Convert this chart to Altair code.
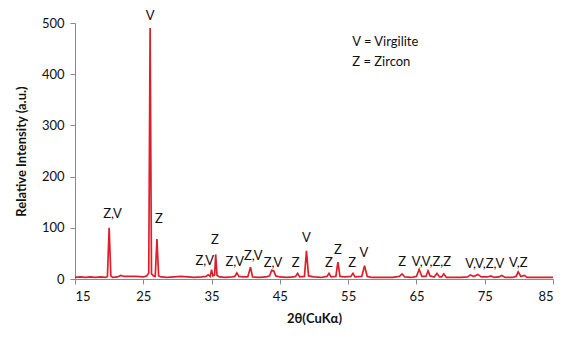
import altair as alt
import pandas as pd

# XRD trace: 2theta (deg) and relative intensity
two_theta = [15.0, 15.8, 16.5, 17.3, 18.0, 18.8, 19.5, 19.75, 20.0, 20.25, 20.5, 21.2, 21.7, 22.2,
             23.0, 24.0, 25.0, 25.5, 25.8, 26.0, 26.2, 26.5, 26.75, 27.0, 27.25, 27.6, 28.5, 29.5,
             30.5, 31.5, 32.5, 33.5, 34.2, 34.5, 34.8, 35.0, 35.2, 35.45, 35.6, 35.8, 36.2, 37.0,
             38.0, 38.4, 38.7, 39.0, 39.6, 40.3, 40.7, 41.0, 42.0, 43.0, 43.5, 43.8, 44.1, 44.4,
             45.0, 46.0, 47.0, 47.3, 47.6, 47.9, 48.6, 48.9, 49.2, 50.0, 51.0, 51.9, 52.2, 52.5,
             53.2, 53.5, 53.8, 54.5, 55.4, 55.7, 56.0, 57.0, 57.4, 57.8, 58.5, 59.5, 60.5, 61.5,
             62.5, 62.9, 63.3, 64.2, 65.0, 65.4, 65.8, 66.4, 66.7, 67.0, 67.6, 68.0, 68.4, 68.7,
             69.0, 69.4, 70.5, 71.5, 72.5, 72.9, 73.4, 74.0, 74.5, 75.4, 75.9, 76.4, 77.1, 77.5,
             78.0, 79.0, 79.6, 79.9, 80.3, 80.8, 81.2, 82.0, 83.0, 84.0, 85.0]
intensity = [3, 4, 3, 4, 3, 4, 3, 5, 100, 6, 3, 4, 7, 5,
             5, 5, 4, 6, 12, 490, 10, 6, 5, 78, 6, 4, 3, 4,
             5, 4, 3, 4, 5, 8, 5, 18, 6, 8, 48, 7, 4, 3,
             4, 5, 12, 5, 4, 4, 23, 4, 3, 4, 6, 17, 16, 6,
             4, 3, 4, 5, 11, 4, 5, 55, 6, 4, 3, 5, 11, 4,
             5, 33, 5, 4, 5, 11, 4, 5, 26, 5, 3, 3, 3, 3,
             5, 10, 4, 3, 5, 19, 5, 5, 16, 6, 4, 11, 4, 4,
             10, 3, 3, 3, 4, 8, 5, 9, 4, 4, 6, 3, 4, 7,
             3, 3, 5, 14, 5, 7, 3, 3, 3, 3, 3]

# Phase annotations (y = text baseline)
label_text = ["V", "Z,V", "Z", "Z", "Z,V", "Z,V", "Z,V", "Z,V", "Z", "V", "Z", "Z", "Z", "V",
              "Z", "V,V,Z,Z", "V,V,Z,V", "V,Z"]
label_x = [26.0, 20.5, 27.3, 35.5, 34.0, 38.4, 41.1, 44.0, 47.3, 48.9, 52.2, 53.5, 55.6, 57.3,
           62.9, 67.2, 75.0, 79.9]
label_y = [506, 119, 109, 68, 27, 25, 37, 23, 23, 72, 23, 49, 23, 43,
           25, 25, 21, 23]

legend_lines = ["V = Virgilite", "Z = Zircon"]
legend_x = [55.6, 55.6]
legend_y = [462, 424]

x_ticks = [15, 25, 35, 45, 55, 65, 75, 85]
y_ticks = [0, 100, 200, 300, 400, 500]

FONT = "Lato"

trace = pd.DataFrame({"t": two_theta, "i": intensity})
labels = pd.DataFrame({"txt": label_text, "x": label_x, "y": label_y})
legend = pd.DataFrame({"txt": legend_lines, "x": legend_x, "y": legend_y})

xs = alt.Scale(domain=[15, 85], nice=False, zero=False)
ys = alt.Scale(domain=[0, 500], nice=False)

line = alt.Chart(trace).mark_line(color="#de1f2b", strokeWidth=1.7).encode(
    x=alt.X("t:Q", scale=xs, title="2θ(CuKα)",
            axis=alt.Axis(values=x_ticks, format="d", labelPadding=6, titlePadding=9)),
    y=alt.Y("i:Q", scale=ys, title="Relative Intensity (a.u.)",
            axis=alt.Axis(values=y_ticks, format="d", labelPadding=6, titlePadding=13)),
)

text = alt.Chart(labels).mark_text(font=FONT, fontSize=13, color="#111",
                                   baseline="alphabetic").encode(
    x=alt.X("x:Q", scale=xs), y=alt.Y("y:Q", scale=ys), text="txt:N"
)

leg = alt.Chart(legend).mark_text(font=FONT, fontSize=13, color="#111", align="left",
                                  baseline="middle").encode(
    x=alt.X("x:Q", scale=xs), y=alt.Y("y:Q", scale=ys), text="txt:N"
)

chart = (line + text + leg).properties(
    width=478, height=256,
    autosize=alt.AutoSizeParams(type="none"),
    padding={"left": 67, "top": 15, "right": 7, "bottom": 50},
).configure_view(stroke=None).configure_axis(
    grid=False, domainColor="#8a8a8a", tickColor="#8a8a8a", tickSize=5,
    labelFont=FONT, labelFontSize=13, labelColor="#111",
    titleFont=FONT, titleFontSize=13, titleFontWeight="bold", titleColor="#111",
)

chart.save("out.html", embed_options={"renderer": "svg", "actions": False})
